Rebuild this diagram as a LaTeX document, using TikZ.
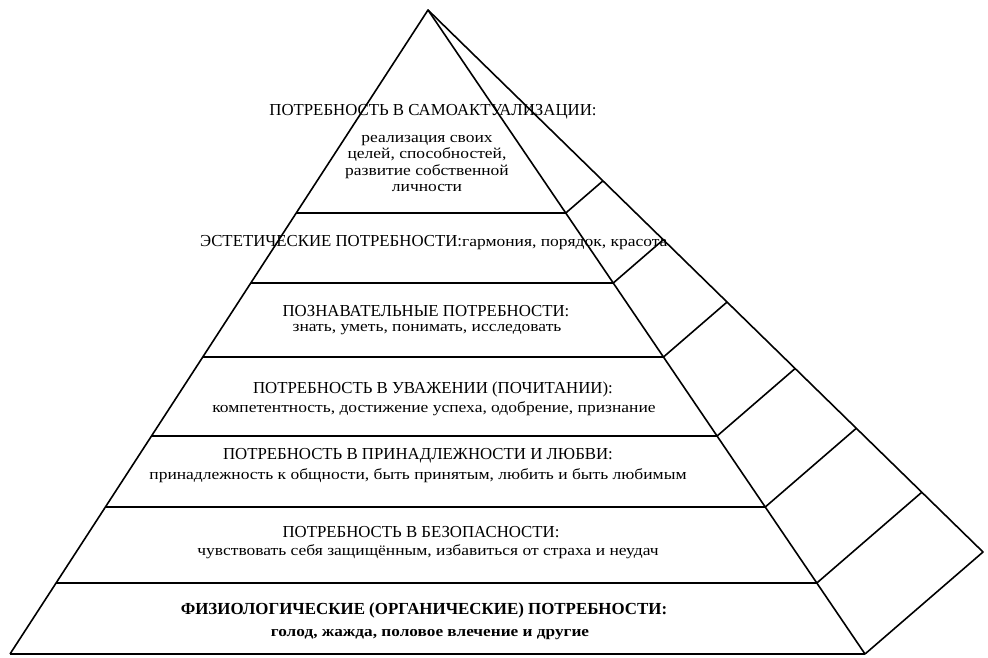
\documentclass[tikz,border=0pt]{standalone}
\usepackage{fontspec}
\setmainfont{Liberation Serif}
\newfontfamily\widefont[FakeStretch=1.15]{Liberation Serif}
\usetikzlibrary{calc}
\tikzset{
  edge/.style={line width=1.6pt, line join=round},
  level/.style={line width=2.2pt},
  ttl/.style={inner sep=0pt, font=\fontsize{16.8}{17}\selectfont},
  dsc/.style={inner sep=0pt, align=center, font=\widefont\fontsize{15.2}{16.4}\selectfont},
  bttl/.style={inner sep=0pt, font=\bfseries\fontsize{16.9}{17}\selectfont},
  bdsc/.style={inner sep=0pt, font=\widefont\bfseries\fontsize{15}{16}\selectfont}
}
\begin{document}
\begin{tikzpicture}[x=1pt,y=-1pt]
\useasboundingbox (0,0) rectangle (988,657);
\fill[white] (0,0) rectangle (988,657);
\coordinate (A) at (428,10);
\coordinate (BL) at (10,654);
\coordinate (BR) at (865,654);
\coordinate (BB) at (983,552);
% levels
\foreach \i/\yy in {1/213,2/283,3/357,4/436,5/507,6/583}{
  \coordinate (L\i) at ($(A)!{(\yy-10)/644}!(BL)$);
  \coordinate (R\i) at ($(A)!{(\yy-10)/644}!(BR)$);
  \coordinate (Q\i) at ($(R\i)+(118,-102)$);
  \coordinate (S\i) at (intersection cs: first line={(R\i)--(Q\i)}, second line={(A)--(BB)});
}
% texts
\node[ttl] (t7) at (433,112) {ПОТРЕБНОСТЬ В САМОАКТУАЛИЗАЦИИ:};
\node[dsc] (d7) at (427,163.5) {реализация своих\\целей, способностей,\\развитие собственной\\личности};
\node[ttl, anchor=west] (t6) at (200,242.5) {ЭСТЕТИЧЕСКИЕ ПОТРЕБНОСТИ:\widefont\fontsize{15.2}{16}\selectfont гармония, порядок, красота};
\node[ttl] (t5) at (426,311) {ПОЗНАВАТЕЛЬНЫЕ ПОТРЕБНОСТИ:};
\node[dsc] (d5) at (427,330) {знать, уметь, понимать, исследовать};
\node[ttl] (t4) at (433,389) {ПОТРЕБНОСТЬ В УВАЖЕНИИ (ПОЧИТАНИИ):};
\node[dsc] (d4) at (434,408.5) {компетентность, достижение успеха, одобрение, признание};
\node[ttl] (t3) at (418,456) {ПОТРЕБНОСТЬ В ПРИНАДЛЕЖНОСТИ И ЛЮБВИ:};
\node[dsc] (d3) at (418,476) {принадлежность к общности, быть принятым, любить и быть любимым};
\node[ttl] (t2) at (421,532) {ПОТРЕБНОСТЬ В БЕЗОПАСНОСТИ:};
\node[dsc] (d2) at (428,551.5) {чувствовать себя защищённым, избавиться от страха и неудач};
\node[bttl] (t1) at (424,610) {ФИЗИОЛОГИЧЕСКИЕ (ОРГАНИЧЕСКИЕ) ПОТРЕБНОСТИ:};
\node[bdsc] (d1) at (430,635) {голод, жажда, половое влечение и другие};
% outline
\draw[edge] (BL) -- (A) -- (BR);
\draw[edge] (A) -- (BB) -- (BR);
\draw[level] (BL) -- (BR);
\foreach \i in {1,...,6}{
  \draw[level] (L\i) -- (R\i);
  \draw[edge] (R\i) -- (S\i);
}
\end{tikzpicture}
\end{document}
